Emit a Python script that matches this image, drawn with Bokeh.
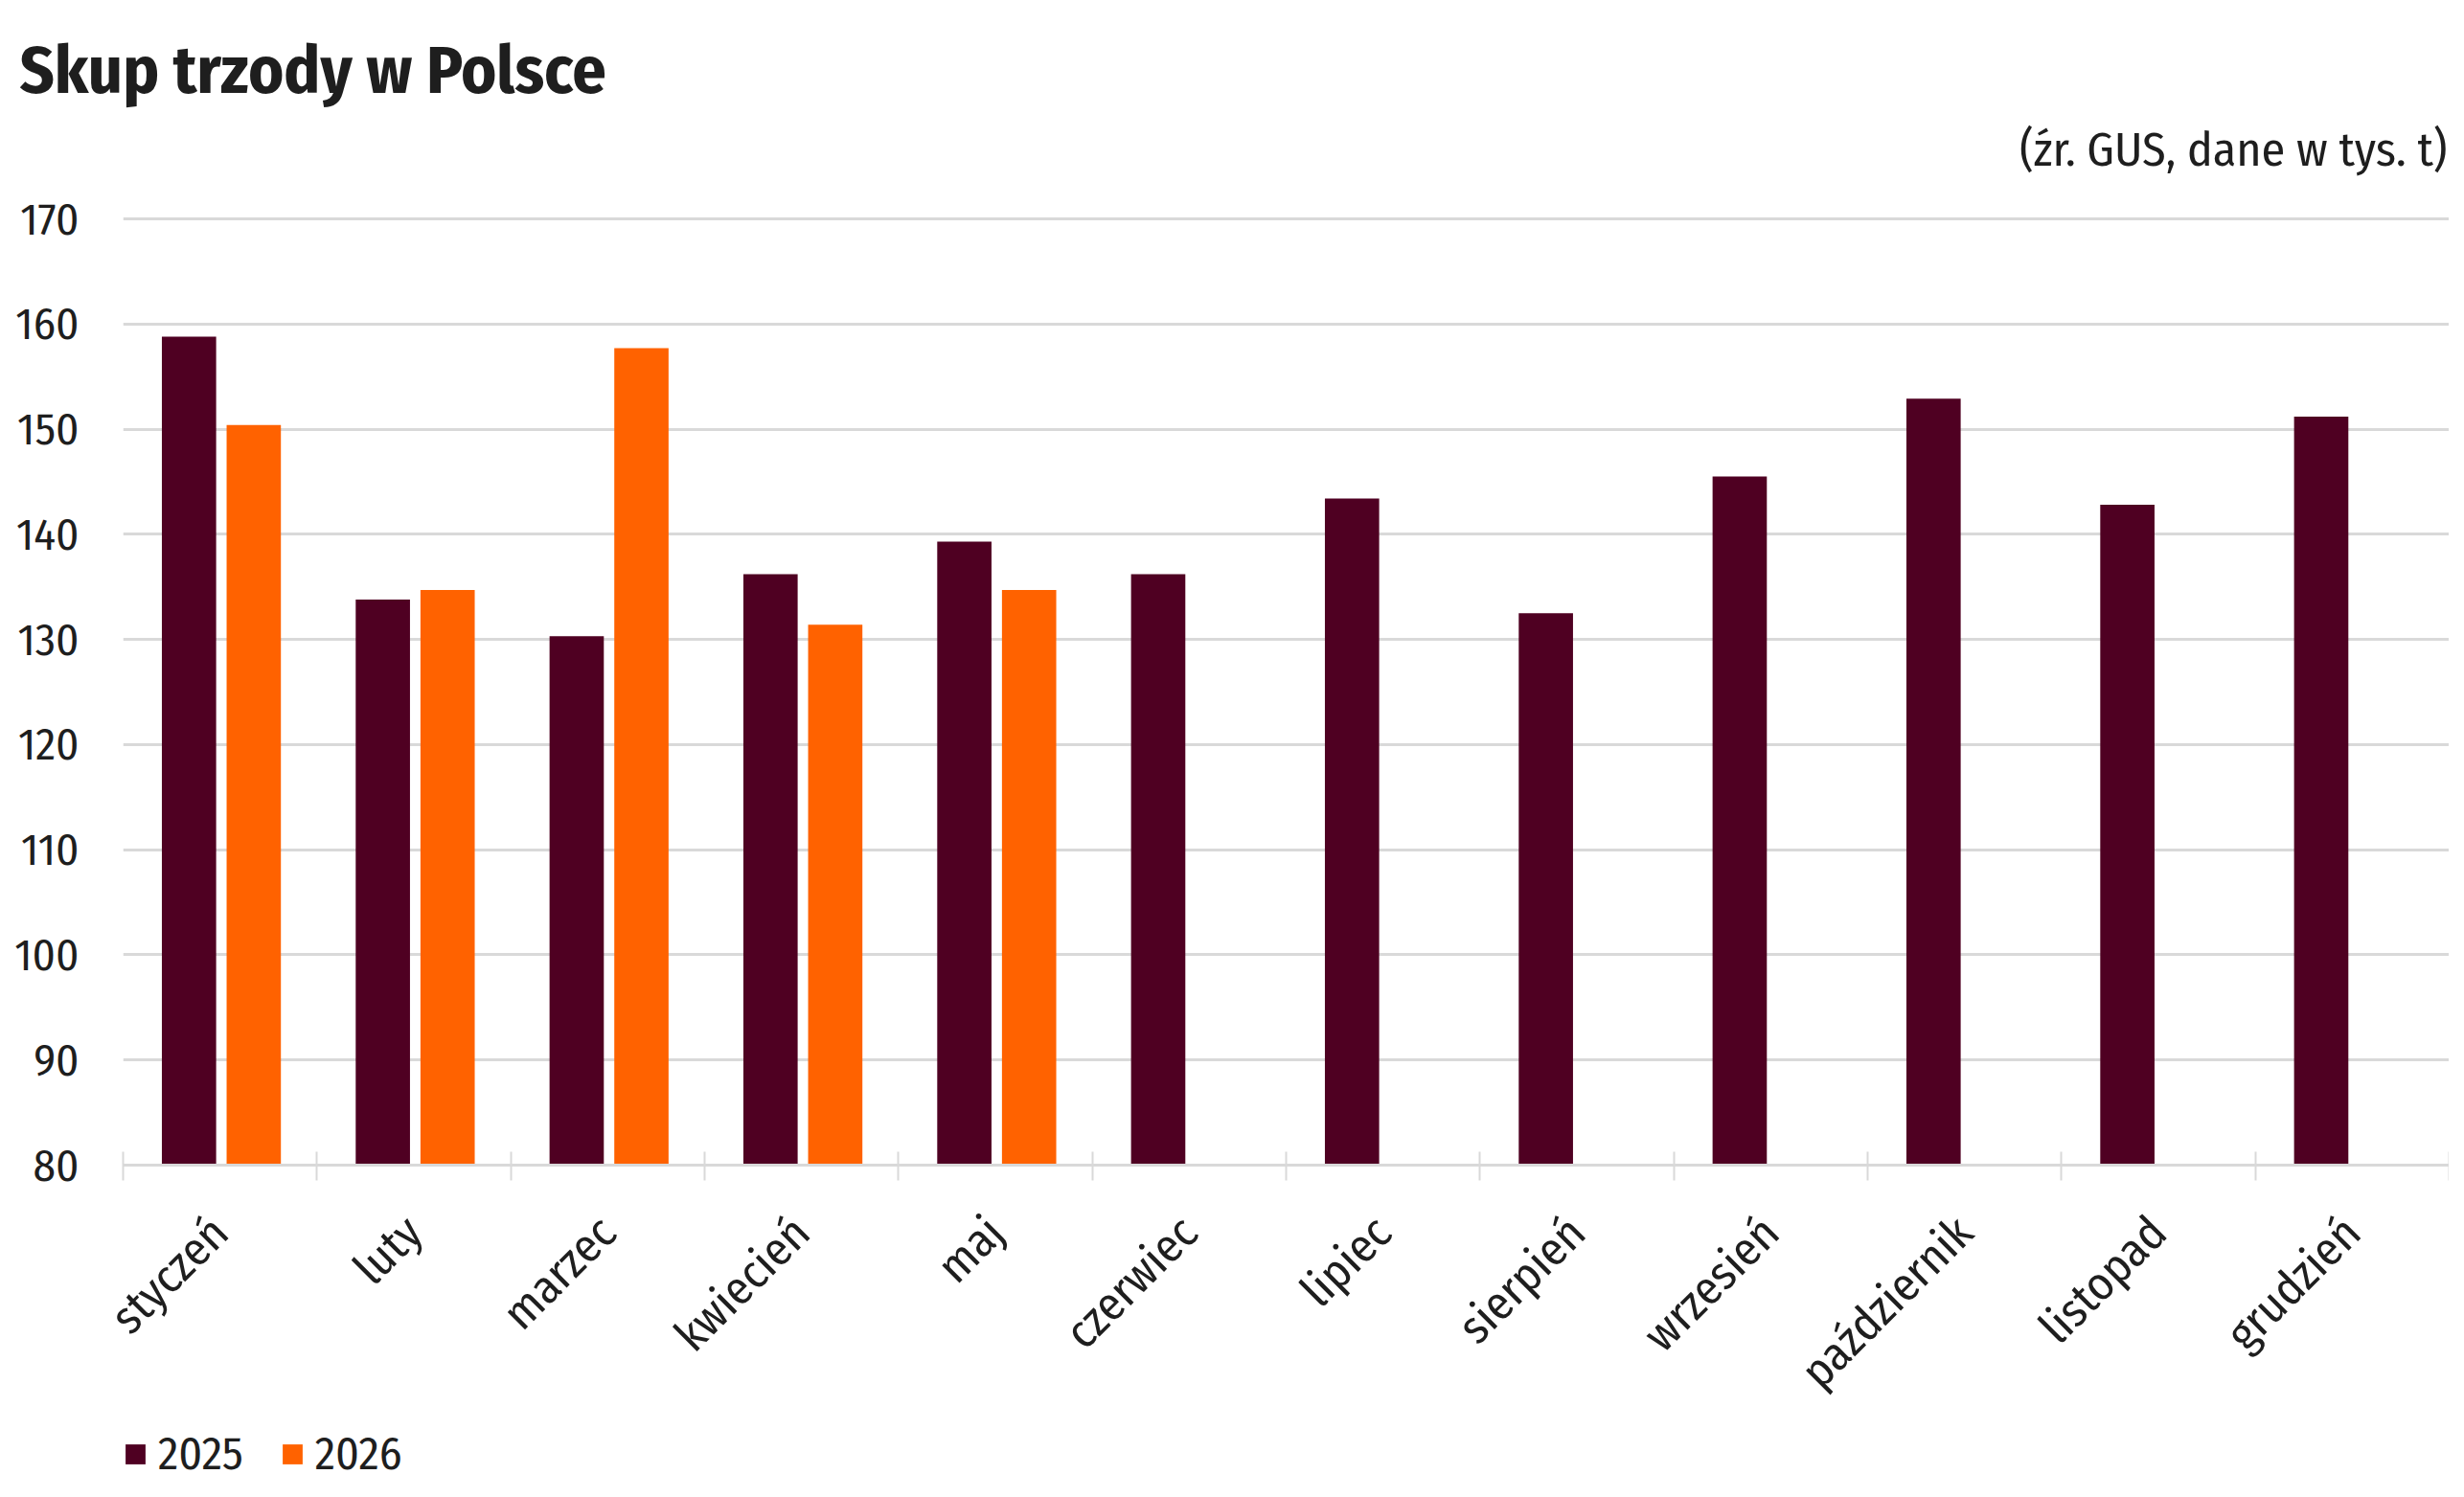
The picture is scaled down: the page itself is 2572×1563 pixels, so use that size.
import math
from bokeh.plotting import figure
from bokeh.layouts import column
from bokeh.models import FixedTicker, Legend, LegendItem, Title, Range1d
from bokeh.core.properties import value
from bokeh.embed import file_html
from bokeh.resources import INLINE

months = ["styczeń", "luty", "marzec", "kwiecień", "maj", "czerwiec",
          "lipiec", "sierpień", "wrzesień", "październik", "listopad", "grudzień"]
v2025 = [158.8, 133.8, 130.3, 136.2, 139.3, 136.2, 143.4, 132.5, 145.5, 152.9, 142.8, 151.2]
v2026 = [150.4, 134.7, 157.7, 131.4, 134.7]
y_ticks = [80, 90, 100, 110, 120, 130, 140, 150, 160, 170]
series_names = ["2025", "2026"]
title_text = "Skup trzody w Polsce"
subtitle_text = "(źr. GUS, dane w tys. t)"

FONT = "Fira Sans Condensed"
C25 = "#4F0022"
C26 = "#FF6200"
GRID = "#D9D9D9"
TXT = "#1E1E1E"

W, H = 2556, 1547
FL = 128                 # frame left (px)
Y170, Y80 = 228, 1216    # pixel rows of the 170 and 80 gridlines
FT = 120                 # frame top (px) - frame extends above 170 to hold the subtitle
FOOT_TOP = 1487          # legend strip starts here
PXU = (Y80 - Y170) / 90.0
y_top = 170 + (Y170 - FT) / PXU

# ---------- main chart ----------
p = figure(width=W, height=FOOT_TOP, x_range=(0, 12), y_range=(80, y_top),
           output_backend="svg", toolbar_location=None,
           min_border_left=FL, min_border_right=0, min_border_top=FT,
           min_border_bottom=FOOT_TOP - Y80)
p.outline_line_color = None

x25 = [i + 0.5 - 0.16 for i in range(len(v2025))]
x26 = [i + 0.5 + 0.174 for i in range(len(v2026))]
r1 = p.vbar(x=x25, top=v2025, bottom=80, width=0.28, fill_color=C25, line_color=None)
r2 = p.vbar(x=x26, top=v2026, bottom=80, width=0.28, fill_color=C26, line_color=None)

xa = p.xaxis[0]
xa.ticker = FixedTicker(ticks=[i + 0.5 for i in range(12)], minor_ticks=list(range(13)))
xa.major_label_overrides = {i + 0.5: m for i, m in enumerate(months)}
xa.axis_line_color = GRID
xa.axis_line_width = 3
xa.major_tick_in = 0
xa.major_tick_out = 0
xa.major_tick_line_color = None
xa.minor_tick_in = 14
xa.minor_tick_out = 16
xa.minor_tick_line_color = GRID
xa.minor_tick_line_width = 2
xa.major_label_orientation = math.pi / 4
xa.major_label_standoff = 46
xa.major_label_text_font = FONT
xa.major_label_text_font_size = "49px"
xa.major_label_text_color = TXT

ya = p.yaxis[0]
ya.ticker = FixedTicker(ticks=y_ticks, minor_ticks=[])
ya.axis_line_color = None
ya.major_tick_line_color = None
ya.minor_tick_line_color = None
ya.major_tick_in = 0
ya.major_tick_out = 0
ya.major_label_standoff = 46
ya.major_label_text_font = FONT
ya.major_label_text_font_size = "47px"
ya.major_label_text_color = TXT

p.xgrid.visible = False
p.ygrid.ticker = FixedTicker(ticks=y_ticks, minor_ticks=[])
p.ygrid.grid_line_color = GRID
p.ygrid.grid_line_width = 3

# main title (side panel above the frame)
p.title = Title(text=title_text, align="left", offset=20 - FL, standoff=10,
                text_font=FONT, text_font_size="70px", text_font_style="bold",
                text_color=TXT)

# subtitle inside the (extended) frame, above the 170 gridline
sub_y = 80 + (Y80 - 155) / PXU
p.text(x=[12 * (2554 - FL) / (W - FL)], y=[sub_y], text=[subtitle_text],
       text_font=value(FONT), text_font_size="50px", text_color=TXT,
       text_align="right", text_baseline="alphabetic")

# ---------- legend strip ----------
FOOT_H = H - FOOT_TOP
footer = figure(width=W, height=FOOT_H, x_range=Range1d(0, W), y_range=Range1d(0, FOOT_H),
                output_backend="svg", toolbar_location=None, title=None, min_border=0,
                x_axis_location=None, y_axis_location=None)
footer.grid.visible = False
footer.outline_line_color = None
k1 = footer.vbar(x=[-100], top=[0], bottom=0, width=1, fill_color=C25, line_color=None)
k2 = footer.vbar(x=[-100], top=[0], bottom=0, width=1, fill_color=C26, line_color=None)
legend = Legend(items=[LegendItem(label=series_names[0], renderers=[k1]),
                       LegendItem(label=series_names[1], renderers=[k2])],
                orientation="horizontal", location=(0, 0),
                glyph_width=26, glyph_height=26, label_standoff=11, spacing=38,
                padding=0, margin=0, border_line_color=None, background_fill_alpha=0,
                label_text_font=FONT, label_text_font_size="48px", label_text_color=TXT)
footer.add_layout(legend)

layout = column(p, footer, spacing=0)
open("out.html", "w").write(file_html(layout, INLINE))
